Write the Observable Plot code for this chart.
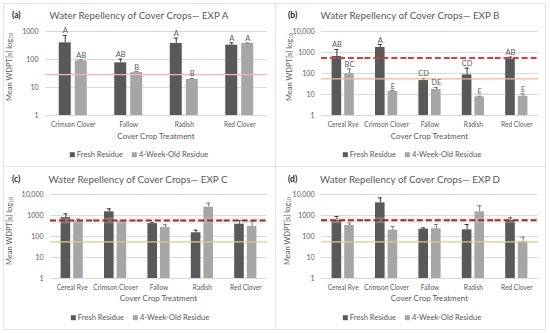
<!DOCTYPE html>
<html><head><meta charset="utf-8">
<script src="https://cdn.jsdelivr.net/npm/d3@7"></script>
<script src="https://cdn.jsdelivr.net/npm/@observablehq/plot@0.6"></script>
<style>
body{margin:0;background:#fff;}
#fig{position:relative;width:550px;height:333px;background:#fff;font-family:Lato,sans-serif;color:#595959;overflow:hidden}
.abs{position:absolute;white-space:nowrap;line-height:1}
.panel{position:absolute;border:1px solid #e2e2e2;box-sizing:border-box}
.title{font-size:9.8px;transform:translate(-50%,-50%);color:#595959}
.tag{font-size:8.5px;font-weight:bold;color:#262626;transform:translate(0,-50%)}
.xt{font-size:8px;transform:translate(-50%,-50%)}
.yt{font-size:7.5px;transform:translate(-50%,-50%) rotate(-90deg)}
.yt sub{font-size:5px;vertical-align:-1px}
.leg{font-size:7.6px;transform:translate(-50%,-50%)}
.sw{display:inline-block;width:5px;height:5px;margin-right:2px;vertical-align:0}
.gap{display:inline-block;width:9px}
svg{position:absolute}
</style></head><body><div id="fig"></div>
<script>
// ---- data ----
const catsA = ["Crimson Clover", "Fallow", "Radish", "Red Clover"];
const catsBCD = ["Cereal Rye", "Crimson Clover", "Fallow", "Radish", "Red Clover"];
const seriesNames = ["Fresh Residue", "4-Week-Old Residue"];

const freshA = [394, 76, 373, 325];
const freshErrA = [720, 103, 580, 394];
const oldA = [90, 34, 19.3, 373];
const oldErrA = [97, 37, 21, 390];
const lettersFreshA = ["A", "AB", "A", "A"];
const lettersOldA = ["AB", "B", "B", "A"];
const refSolidA = 29;

const freshB = [645, 1730, 46, 86, 480];
const freshErrB = [1390, 2400, 58, 180, 600];
const oldB = [96, 13.9, 17.3, 7.7, 8.3];
const oldErrB = [167, 15.5, 21.6, 8.3, 10.8];
const lettersFreshB = ["AB", "A", "CD", "CD", "AB"];
const lettersOldB = ["BC", "E", "DE", "E", "E"];
const refDashB = 550, refSolidB = 56;

const freshC = [803, 1496, 416, 150, 387];
const freshErrC = [1200, 2090, 465, 200, 580];
const oldC = [557, 537, 268, 2495, 300];
const oldErrC = [668, 580, 360, 3870, 520];
const refDashC = 580, refSolidC = 56;

const freshD = [580, 4010, 223, 208, 580];
const freshErrD = [900, 6950, 258, 372, 780];
const oldD = [334, 200, 232, 1496, 58];
const oldErrD = [446, 300, 372, 2900, 93];
const refDashD = 600, refSolidD = 56;

const ticksA = [1, 10, 100, 1000];
const ticksBCD = [1, 10, 100, 1000, 10000];
const tickLabel = d => d >= 10000 ? d3.format(",")(d) : String(d);

const colFresh = "#595959", colOld = "#a6a6a6";

const fig = document.getElementById("fig");
function add(cls, html, x, y) {
  const el = document.createElement("div");
  el.className = "abs " + cls;
  el.innerHTML = html;
  el.style.left = x + "px"; el.style.top = y + "px";
  fig.appendChild(el); return el;
}

function makePanel(p) {
  const box = document.createElement("div");
  box.className = "panel";
  Object.assign(box.style, {left: p.left + "px", top: p.top + "px", width: p.w + "px", height: p.h + "px"});
  fig.appendChild(box);

  const mk = (vals, errs, letters, name) => p.cats.map((c, i) => ({cat: c, series: name, value: vals[i], err: errs[i], letter: letters ? letters[i] : ""}));
  const fresh = mk(p.fresh, p.freshErr, p.lf, seriesNames[0]);
  const old = mk(p.old, p.oldErr, p.lo, seriesNames[1]);
  const W = (p.w - p.ml - p.mr) / p.cats.length;
  const s = p.bw + p.gap, pi = p.gap / s, po = (W / s - 2 + pi) / 2;
  const cap = (p.bw - 4) / 2;
  const marks = [
    Plot.ruleY(p.ticks, {stroke: "#d9d9d9", strokeWidth: 1})
  ];
  const barMarks = (data, fill, errStroke) => [
    Plot.barY(data, {fx: "cat", x: "series", y1: () => 1, y2: "value", fill}),
    Plot.ruleX(data, {fx: "cat", x: "series", y1: "value", y2: "err", stroke: errStroke, strokeWidth: 1}),
    Plot.tickY(data, {fx: "cat", x: "series", y: "err", stroke: errStroke, strokeWidth: 1, insetLeft: cap, insetRight: cap})
  ];
  marks.push(...barMarks(fresh, colFresh, "#3a3a3a"), ...barMarks(old, colOld, "#7a7a7a"));
  if (p.dash != null) {
    if (p.band) marks.push(Plot.ruleY([p.dash], {stroke: p.band, strokeWidth: 6, strokeOpacity: 0.3}));
    marks.push(Plot.ruleY([p.dash], {stroke: p.dashColor, strokeWidth: 2, strokeDasharray: "6,3"}));
  }
  marks.push(Plot.ruleY([p.solid], {stroke: p.solidColor, strokeWidth: 1.2}));
  if (p.lf) {
    marks.push(Plot.text([...fresh, ...old], {fx: "cat", x: "series", y: "err", text: "letter", dy: -2, lineAnchor: "bottom", fill: "#595959", fontSize: 7.5}));
  }
  const svg = Plot.plot({
    width: p.w, height: p.h,
    marginTop: p.mt, marginBottom: p.h - p.mt - 84, marginLeft: p.ml, marginRight: p.mr,
    style: {fontFamily: "Lato, sans-serif", fontSize: "7px", color: "#595959", background: "transparent", overflow: "visible"},
    fx: {domain: p.cats, padding: 0, round: false, tickSize: 0, tickPadding: 7, label: null, axis: "bottom"},
    x: {domain: seriesNames, paddingInner: pi, paddingOuter: po, round: false, axis: null},
    y: {type: "log", domain: [1, p.ticks[p.ticks.length - 1]], ticks: p.ticks, tickFormat: tickLabel, tickSize: 0, tickPadding: 7, label: null},
    marks
  });
  svg.style.left = p.left + "px"; svg.style.top = p.top + "px";
  svg.querySelectorAll("g[aria-label='fx-axis tick label'] text, g[aria-label='fx-axis'] text").forEach(t => t.setAttribute("font-size", "6.6"));
  fig.appendChild(svg);

  add("tag", p.tag, p.tagX, p.titleY - 1);
  add("title", p.title, p.titleX, p.titleY);
  add("yt", "Mean WDPT[s] log<sub>10</sub>", p.ylX, p.ylY);
  add("xt", "Cover Crop Treatment", p.left + p.ml + (p.w - p.ml - p.mr) / 2, p.axTitleY);
  add("leg", `<span class="sw" style="background:${colFresh}"></span>Fresh Residue<span class="gap"></span><span class="sw" style="background:${colOld}"></span>4-Week-Old Residue`, p.legX, p.legY);
}

makePanel({left: 3, top: 3, w: 273, h: 164, ml: 42, mr: 9, mt: 28, cats: catsA, ticks: ticksA,
  fresh: freshA, freshErr: freshErrA, old: oldA, oldErr: oldErrA, lf: lettersFreshA, lo: lettersOldA,
  bw: 12, gap: 4, solid: refSolidA, solidColor: "#f7b3b3",
  tag: "(a)", tagX: 12, title: "Water Repellency of Cover Crops— EXP A", titleX: 139, titleY: 16,
  ylX: 10, ylY: 67, axTitleY: 136, legX: 139, legY: 155});

makePanel({left: 275, top: 3, w: 271, h: 164, ml: 46, mr: 8, mt: 28, cats: catsBCD, ticks: ticksBCD,
  fresh: freshB, freshErr: freshErrB, old: oldB, oldErr: oldErrB, lf: lettersFreshB, lo: lettersOldB,
  bw: 9.6, gap: 3, solid: refSolidB, solidColor: "#f7b69b", dash: refDashB, dashColor: "#e2393f",
  tag: "(b)", tagX: 288, title: "Water Repellency of Cover Crops— EXP B", titleX: 410, titleY: 16,
  ylX: 290, ylY: 67, axTitleY: 136, legX: 412, legY: 155});

makePanel({left: 3, top: 166, w: 273, h: 164, ml: 47, mr: 9, mt: 28, cats: catsBCD, ticks: ticksBCD,
  fresh: freshC, freshErr: freshErrC, old: oldC, oldErr: oldErrC,
  bw: 9.6, gap: 3, solid: refSolidC, solidColor: "#dccb8c", dash: refDashC, dashColor: "#7b3a36", band: "#f2b8b8",
  tag: "(c)", tagX: 12, title: "Water Repellency of Cover Crops— EXP C", titleX: 138, titleY: 180,
  ylX: 10, ylY: 231, axTitleY: 298, legX: 140, legY: 318});

makePanel({left: 275, top: 166, w: 271, h: 164, ml: 46, mr: 8, mt: 28, cats: catsBCD, ticks: ticksBCD,
  fresh: freshD, freshErr: freshErrD, old: oldD, oldErr: oldErrD,
  bw: 9.6, gap: 3, solid: refSolidD, solidColor: "#dccb8c", dash: refDashD, dashColor: "#7b3a36", band: "#f2b8b8",
  tag: "(d)", tagX: 288, title: "Water Repellency of Cover Crops— EXP D", titleX: 410, titleY: 180,
  ylX: 288, ylY: 231, axTitleY: 298, legX: 412, legY: 318});
</script></body></html>
